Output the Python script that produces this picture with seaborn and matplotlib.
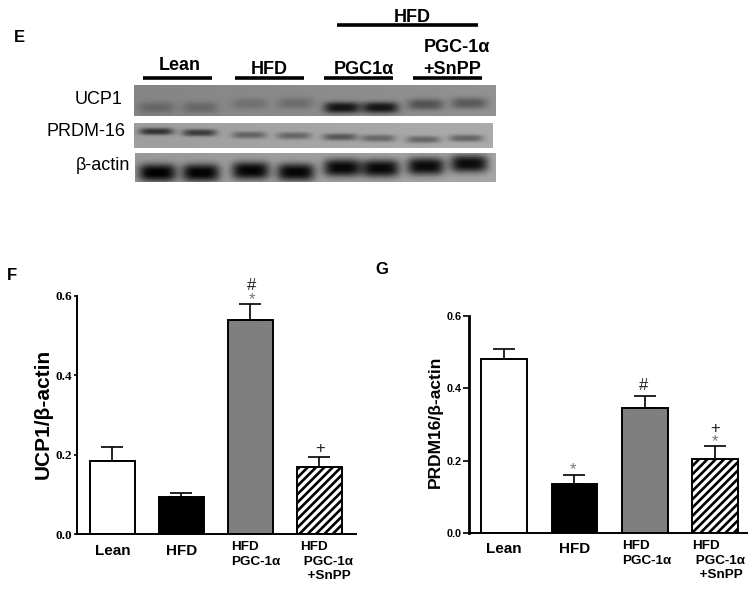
import numpy as np
import pandas as pd
import matplotlib
matplotlib.use("Agg")
import matplotlib.pyplot as plt
from matplotlib.transforms import ScaledTranslation
import seaborn as sns

# ---------- data ----------
categories = ["Lean", "HFD", "HFD\nPGC-1α", "HFD\n PGC-1α\n  +SnPP"]
ucp1_mean = [0.185, 0.093, 0.54, 0.17]
ucp1_upper = [0.22, 0.103, 0.58, 0.195]
prdm_mean = [0.48, 0.135, 0.345, 0.205]
prdm_upper = [0.51, 0.16, 0.38, 0.24]
yticks = [0.0, 0.2, 0.4, 0.6]

# western-blot band darkness per lane (0..1) and vertical band position (fraction of panel)
ucp1_band = [0.26, 0.26, 0.20, 0.24, 1.0, 1.0, 0.50, 0.45]
ucp1_pos = [0.72, 0.72, 0.60, 0.58, 0.72, 0.72, 0.62, 0.58]
prdm_band = [0.85, 0.80, 0.50, 0.48, 0.62, 0.50, 0.52, 0.55]
prdm_pos = [0.33, 0.38, 0.47, 0.50, 0.55, 0.60, 0.65, 0.60]
actin_band = [1.0, 1.0, 1.0, 1.0, 1.0, 1.0, 1.0, 1.0]
actin_pos = [0.67, 0.67, 0.60, 0.65, 0.50, 0.52, 0.45, 0.36]
blot_names = ["UCP1", "PRDM-16", "β-actin"]

W, H = 755, 590
sns.set_theme(style="ticks")
plt.rcParams["font.family"] = ["Liberation Sans", "DejaVu Sans"]
plt.rcParams["hatch.linewidth"] = 1.9
plt.rcParams.update({"text.color": "black", "xtick.color": "black", "ytick.color": "black",
                     "axes.edgecolor": "black", "axes.labelcolor": "black"})
fig = plt.figure(figsize=(W / 100, H / 100), dpi=100, facecolor="white")


def px_axes(x0, y0, x1, y1, **kw):
    return fig.add_axes([x0 / W, 1 - y1 / H, (x1 - x0) / W, (y1 - y0) / H], **kw)


# overlay in pixel coordinates for labels and rules
ov = fig.add_axes([0, 0, 1, 1], zorder=5)
ov.set_xlim(0, W)
ov.set_ylim(H, 0)
ov.axis("off")
ov.patch.set_alpha(0)


def txt(x, y, s, size=13, weight="bold", ha="center", color="black"):
    ov.text(x, y, s, fontsize=size, fontweight=weight, ha=ha, va="center", color=color)


# ---------- blots ----------
def blot(box, band, pos, bg, sy, lane_w, dark):
    x0, y0, x1, y1 = box
    h, w = (y1 - y0) * 2, (x1 - x0) * 2
    yy, xx = np.mgrid[0:h, 0:w]
    xf, yf = xx / w, yy / h
    img = bg + 0.05 * xf
    centers = np.array([0.062, 0.182, 0.32, 0.445, 0.574, 0.68, 0.805, 0.925])
    for c, b, p in zip(centers, band, pos):
        prof = np.exp(-((xf - c) / lane_w) ** 4) * np.exp(-np.abs((yf - p) / sy) ** 2.6)
        img = img - dark * b * prof
    ax = px_axes(x0, y0, x1, y1)
    ax.imshow(np.clip(img, 0, 1), cmap="gray", vmin=0, vmax=1, aspect="auto", interpolation="bilinear")
    ax.axis("off")


blot((134, 85, 496, 116), ucp1_band, ucp1_pos, 0.52, 0.18, 0.050, 0.47)
blot((134, 123, 493, 148), prdm_band, prdm_pos, 0.62, 0.14, 0.048, 0.50)
blot((135, 153, 496, 182), actin_band, actin_pos, 0.60, 0.30, 0.052, 0.60)

txt(99, 99, blot_names[0], 13, "normal")
txt(85.5, 132, blot_names[1], 13, "normal")
txt(102.5, 166, blot_names[2], 13, "normal")

for x0, x1 in [(143, 212), (235, 304), (324, 393), (413, 482)]:
    ov.plot([x0, x1], [78, 78], color="black", lw=2.6, solid_capstyle="butt")
ov.plot([337, 478], [25, 25], color="black", lw=2.6, solid_capstyle="butt")
txt(412, 17.5, "HFD")
txt(180, 66, "Lean")
txt(269, 69, "HFD")
txt(364, 69, "PGC1α")
txt(457, 47, "PGC-1α")
txt(452, 70, "+SnPP")
txt(19.5, 38, "E", 12)
txt(12, 275, "F", 12)
txt(382, 269, "G", 12)


# ---------- bars ----------
def bars(box, xlim, means, uppers, tickfont, ticksize, ticklen, spine_lw, width):
    ax = px_axes(*box)
    df = pd.DataFrame({"group": categories, "value": means})
    sns.barplot(data=df, x="group", y="value", hue="group", order=categories, hue_order=categories,
                palette=["white", "black", "#7f7f7f", "white"], width=width, dodge=False,
                edgecolor="black", linewidth=1.4, errorbar=None, legend=False, ax=ax)
    ax.patches[3].set_hatch("////")
    up = np.array(uppers) - np.array(means)
    ax.errorbar(range(4), means, yerr=[np.zeros(4), up], fmt="none", ecolor="black",
                elinewidth=1.2, capsize=8, capthick=1.2, zorder=1)
    ax.set_xlim(*xlim)
    ax.set_ylim(0, 0.6)
    ax.set_yticks(yticks)
    ax.set_yticklabels([f"{v:.1f}" for v in yticks], fontsize=ticksize, fontweight="bold", family=tickfont)
    ax.set_xlabel("")
    ax.set_ylabel("")
    ax.tick_params(axis="y", length=ticklen, width=1.2, pad=1)
    ax.tick_params(axis="x", length=0, pad=5)
    ax.set_xticks(range(4))
    ax.set_xticklabels(categories, fontweight="bold", multialignment="left")
    for s in ["top", "right"]:
        ax.spines[s].set_visible(False)
    ax.spines["left"].set_linewidth(spine_lw)
    ax.spines["bottom"].set_linewidth(1.4)
    ax.patch.set_alpha(0)
    return ax


def place_ticks(ax, offs):
    """Offset and size the category labels to follow the reference."""
    for lab, (dx, dy, size, ha) in zip(ax.get_xticklabels(), offs):
        lab.set_fontsize(size)
        lab.set_ha(ha)
        lab.set_va("top")
        lab.set_linespacing(1.28)
        lab.set_transform(lab.get_transform() + ScaledTranslation(dx / 100, dy / 100, fig.dpi_scale_trans))


axF = bars((77, 295.7, 356, 534.3), (-0.514, 3.53), ucp1_mean, ucp1_upper, "Liberation Serif", 9.5, 2.5, 1.4, 0.652)
place_ticks(axF, [(0, -3, 11, "center"), (0, -3, 11, "center"), (-19, 0, 9.7, "left"), (-19, 0, 9.7, "left")])
axG = bars((469, 316, 747, 533.3), (-0.497, 3.45), prdm_mean, prdm_upper, "Liberation Sans", 7.8, 4.2, 2.0, 0.65)
place_ticks(axG, [(0, -2, 11, "center"), (0, -2, 11, "center"), (-23, 0, 9.7, "left"), (-23, 0, 9.7, "left")])

ov.text(43, 414, "UCP1/β-actin", fontsize=15, fontweight="bold", rotation=90, ha="center", va="center")
ov.text(435, 422, "PRDM16/β-actin", fontsize=12.5, fontweight="bold", rotation=90, ha="center", va="center")

# significance marks
for x, y, s, c in [(252, 285, "#", "#222222"), (252, 300, "*", "#777777"), (320, 449, "+", "#222222"),
                   (573, 470, "*", "#777777"), (644, 385, "#", "#222222"), (715, 428, "+", "#222222"),
                   (715, 442, "*", "#777777")]:
    txt(x, y, s, 12, "normal", color=c)

fig.savefig("out.png", dpi=100, facecolor="white")
